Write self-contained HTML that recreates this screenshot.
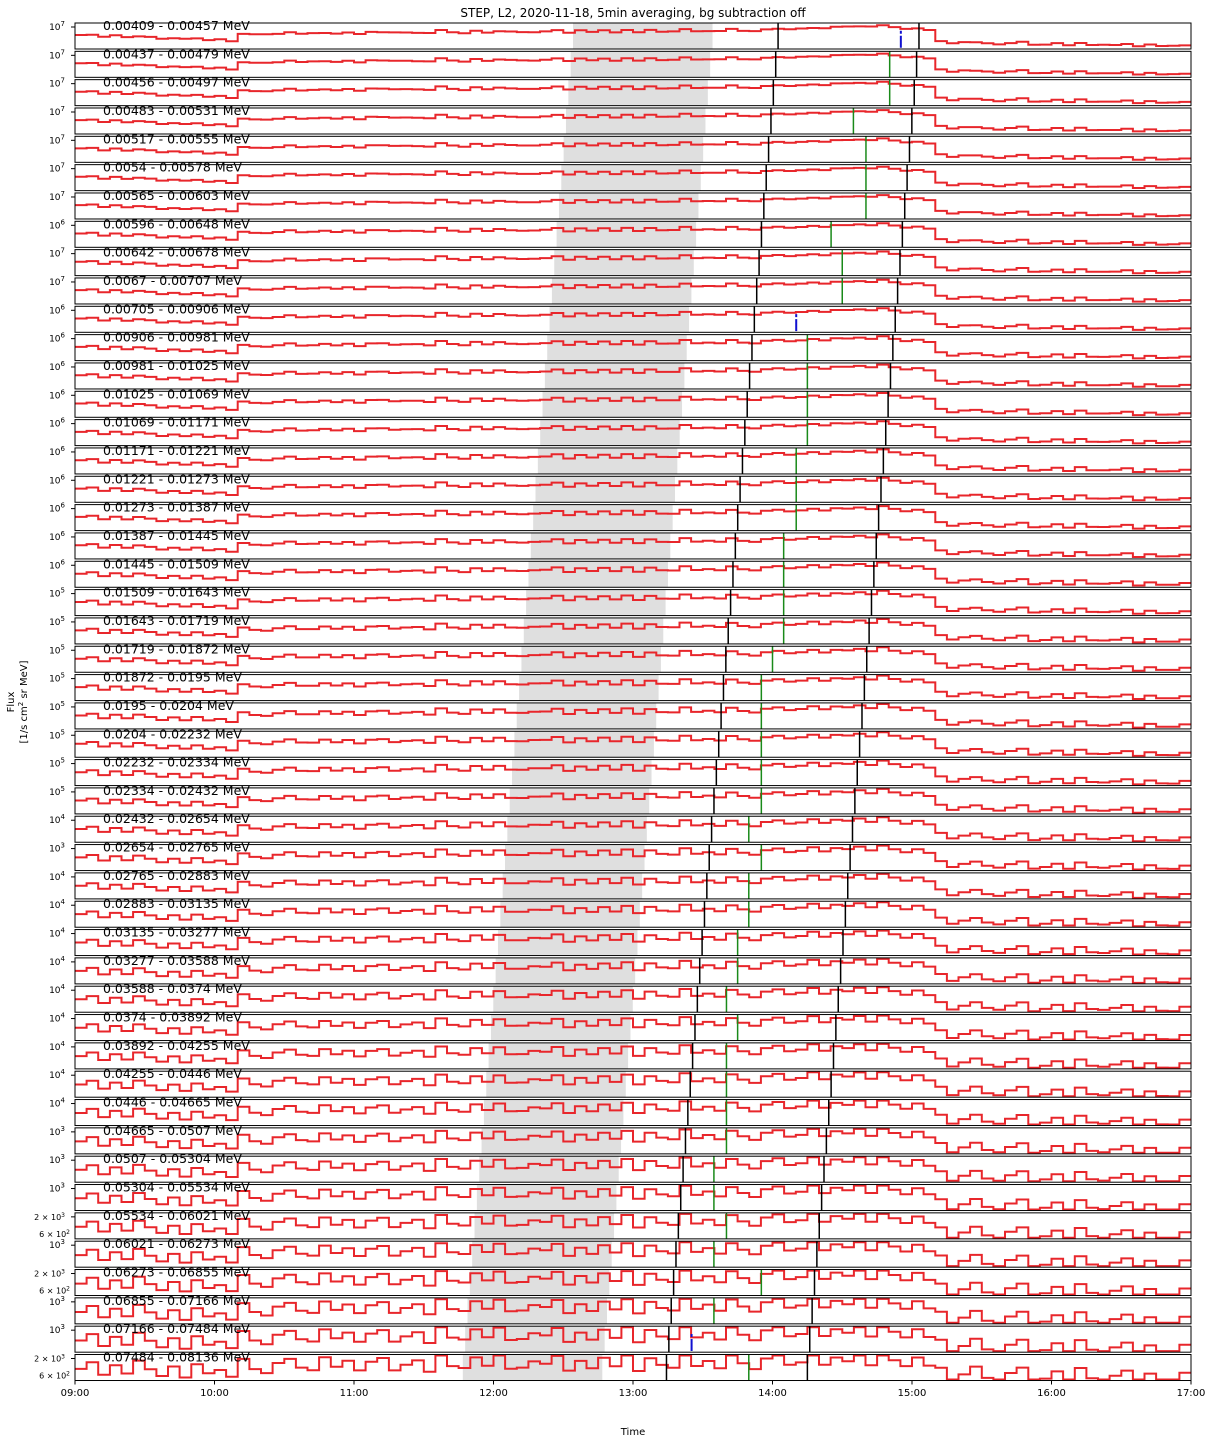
<!DOCTYPE html>
<html><head><meta charset="utf-8"><style>
body{margin:0;background:#fff;}
svg text{font-family:"DejaVu Sans","Liberation Sans",sans-serif;}
</style></head><body>
<svg id="chart" width="1212" height="1444" xmlns="http://www.w3.org/2000/svg">
<text x="633" y="17" font-size="12" text-anchor="middle">STEP, L2, 2020-11-18, 5min averaging, bg subtraction off</text>
<text x="633" y="1435" font-size="10" text-anchor="middle">Time</text>
<g transform="translate(14,702) rotate(-90)"><text x="0" y="0" font-size="10" text-anchor="middle">Flux</text><text x="0" y="13" font-size="10" text-anchor="middle">[1/s cm<tspan dy="-4" font-size="7">2</tspan><tspan dy="4"> sr MeV]</tspan></text></g>
<g id="panels"></g>
<g id="xaxis"></g>
</svg>
<script>
const labels=["0.00409 - 0.00457","0.00437 - 0.00479","0.00456 - 0.00497","0.00483 - 0.00531","0.00517 - 0.00555","0.0054 - 0.00578","0.00565 - 0.00603","0.00596 - 0.00648","0.00642 - 0.00678","0.0067 - 0.00707","0.00705 - 0.00906","0.00906 - 0.00981","0.00981 - 0.01025","0.01025 - 0.01069","0.01069 - 0.01171","0.01171 - 0.01221","0.01221 - 0.01273","0.01273 - 0.01387","0.01387 - 0.01445","0.01445 - 0.01509","0.01509 - 0.01643","0.01643 - 0.01719","0.01719 - 0.01872","0.01872 - 0.0195","0.0195 - 0.0204","0.0204 - 0.02232","0.02232 - 0.02334","0.02334 - 0.02432","0.02432 - 0.02654","0.02654 - 0.02765","0.02765 - 0.02883","0.02883 - 0.03135","0.03135 - 0.03277","0.03277 - 0.03588","0.03588 - 0.0374","0.0374 - 0.03892","0.03892 - 0.04255","0.04255 - 0.0446","0.0446 - 0.04665","0.04665 - 0.0507","0.0507 - 0.05304","0.05304 - 0.05534","0.05534 - 0.06021","0.06021 - 0.06273","0.06273 - 0.06855","0.06855 - 0.07166","0.07166 - 0.07484","0.07484 - 0.08136"];
const yExp=[7,7,7,7,7,7,7,6,7,7,6,6,6,6,6,6,6,6,6,6,5,5,5,5,5,5,5,5,4,3,4,4,4,4,4,4,4,4,4,3,3,3,0,3,0,3,3,0];
const markerTimes=[14.92,14.84,14.84,14.58,14.67,14.67,14.67,14.42,14.50,14.50,14.17,14.25,14.25,14.25,14.25,14.17,14.17,14.17,14.08,14.08,14.08,14.08,14.00,13.92,13.92,13.92,13.92,13.92,13.83,13.92,13.83,13.83,13.75,13.75,13.67,13.75,13.67,13.67,13.67,13.67,13.58,13.58,13.67,13.58,13.92,13.58,13.42,13.83];
const markerBlue=[0,10,46];
const shadeStartFirst=12.57, shadeStartLast=11.78;
const blackFirst=[14.04,15.05], blackLast=[13.24,14.25];
const profile=[0.45,0.47,0.5,0.48,0.52,0.55,0.53,0.58,0.6,0.57,0.62,0.65,0.63,0.68,
0.45,0.42,0.4,0.43,0.38,0.4,0.36,0.42,0.4,0.38,
0.4,0.35,0.38,0.33,0.36,0.4,0.35,0.3,0.34,0.38,0.32,0.36,
0.35,0.3,0.33,0.37,0.32,0.3,0.34,0.28,0.32,0.3,0.35,0.3,
0.32,0.28,0.33,0.3,0.27,0.3,0.32,0.28,0.25,0.3,0.28,0.26,
0.25,0.22,0.2,0.23,0.18,0.15,0.12,0.15,0.1,0.12,0.15,0.2,0.22,0.25,
0.72,0.75,0.73,0.78,0.76,0.8,0.78,0.75,0.8,0.82,0.79,0.83,0.8,0.84,0.82,0.85,0.83,0.86,0.84,0.87,0.85,0.88];
const noise=[0.3,-0.5,0.8,-0.2,0.6,-0.9,0.1,0.7,-0.4,0.9,-0.7,0.2,-0.1,0.5,-0.8,0.4,0.9,-0.3,-0.6,0.3,0.7,-0.9,0.2,-0.4,
0.6,-0.2,-0.7,0.8,0.1,-0.5,0.9,-0.8,0.3,0.4,-0.6,0.2,-0.9,0.7,0.5,-0.3,0.1,-0.7,0.8,-0.1,0.6,-0.5,0.3,-0.8,
0.9,-0.4,0.2,0.6,-0.9,0.4,-0.2,0.7,-0.6,0.1,0.8,-0.3,-0.7,0.5,0.3,-0.9,0.6,-0.1,0.4,-0.5,0.9,-0.8,0.2,0.7,
-0.3,0.5,-0.6,0.8,0.1,-0.9,0.4,0.6,-0.2,-0.7,0.9,0.3,-0.4,0.7,-0.8,0.2,0.5,-0.1,-0.6,0.8,-0.3,0.4,0.6,-0.5];
const amps=[0.04,0.04,0.05,0.05,0.05,0.05,0.05,0.06,0.06,0.06,0.06,0.07,0.07,0.07,0.07,0.08,0.08,0.08,0.08,0.09,0.09,0.1,0.1,0.1,0.11,0.11,0.12,0.12,0.13,0.14,0.14,0.15,0.16,0.17,0.18,0.19,0.2,0.21,0.22,0.23,0.24,0.25,0.27,0.28,0.3,0.31,0.33,0.35];
const xTicks=["09:00","10:00","11:00","12:00","13:00","14:00","15:00","16:00","17:00"];

const NS="http://www.w3.org/2000/svg";
const X0=75,X1=1191,T0=9,T1=17,TOP=23,PITCH=28.33,PH=26;
const xs=t=>X0+(t-T0)/(T1-T0)*(X1-X0);
function mk(tag,attrs,parent){const e=document.createElementNS(NS,tag);for(const k in attrs)e.setAttribute(k,attrs[k]);parent.appendChild(e);return e;}
const g=document.getElementById('panels');
const n=labels.length;
const NB=profile.length;
for(let i=0;i<n;i++){
  const y0=TOP+i*PITCH, f=i/(n-1);
  const pg=mk('g',{},g);
  
  
  const ss=shadeStartFirst+(shadeStartLast-shadeStartFirst)*f;
  const sh=mk('rect',{x:xs(ss),y:y0,width:xs(ss+1)-xs(ss),height:PH,fill:'#dfdfdf'},pg);
  
  
  let d='';
  const ys=v=>y0+Math.max(0.04,Math.min(0.96,v))*PH;
  for(let k=0;k<NB;k++){
    const v=profile[k]+(noise[k]||0)*amps[i];
    const xa=xs(T0+(T1-T0)*k/NB), xb=xs(T0+(T1-T0)*(k+1)/NB);
    d+=(k===0?'M':'L')+xa.toFixed(1)+','+ys(v).toFixed(1)+'L'+xb.toFixed(1)+','+ys(v).toFixed(1);
  }
  const ln=mk('path',{d:d,fill:'none',stroke:'#e8262b','stroke-width':2},pg);
  
  
  for(let j=0;j<2;j++){
    const t=blackFirst[j]+(blackLast[j]-blackFirst[j])*f;
    const bl=mk('line',{x1:xs(t),x2:xs(t),y1:y0,y2:y0+PH,stroke:'#000','stroke-width':1.5},pg);
    
    
  }
  const blue=markerBlue.includes(i);
  const gm=mk('line',{x1:xs(markerTimes[i]),x2:xs(markerTimes[i]),y1:blue?y0+PH*0.3:y0,y2:y0+PH,stroke:blue?'#1010d0':'#1a8a1a','stroke-width':blue?2:1.5,'stroke-dasharray':blue?'3,2,12':'none'},pg);
  
  
  const fr=mk('rect',{x:X0,y:y0,width:X1-X0,height:PH,fill:'none',stroke:'#000','stroke-width':1},pg);
  
  
  const lt=mk('text',{x:103,y:y0+7,'font-size':12.5},pg);
  lt.textContent=labels[i]+' MeV';
  
  
  const yt=mk('text',{x:65,y:y0+7,'font-size':9,'text-anchor':'end'},pg);
  
  
  if(yExp[i]>0){yt.innerHTML='10<tspan dy="-4" font-size="7">'+yExp[i]+'</tspan>';}
  else{yt.setAttribute('font-size','8');yt.innerHTML='2 × 10<tspan dy="-3" font-size="6">3</tspan>';
    const y2=mk('text',{x:70,y:y0+24,'font-size':8,'text-anchor':'end'},pg);
    
    
    y2.innerHTML='6 × 10<tspan dy="-3" font-size="6">2</tspan>';}
  mk('line',{x1:X0-4,x2:X0,y1:y0+4,y2:y0+4,stroke:'#000'},pg);
}
const xa=document.getElementById('xaxis');
xTicks.forEach((lab,k)=>{
  const x=xs(T0+k);
  const tk=mk('line',{x1:x,x2:x,y1:TOP+(n-1)*PITCH+PH,y2:TOP+(n-1)*PITCH+PH+4,stroke:'#000'},xa);
  
  
  const t=mk('text',{x:x,y:1396,'font-size':10,'text-anchor':'middle'},xa);
  t.textContent=lab;
  
  
});
</script>
</body></html>
